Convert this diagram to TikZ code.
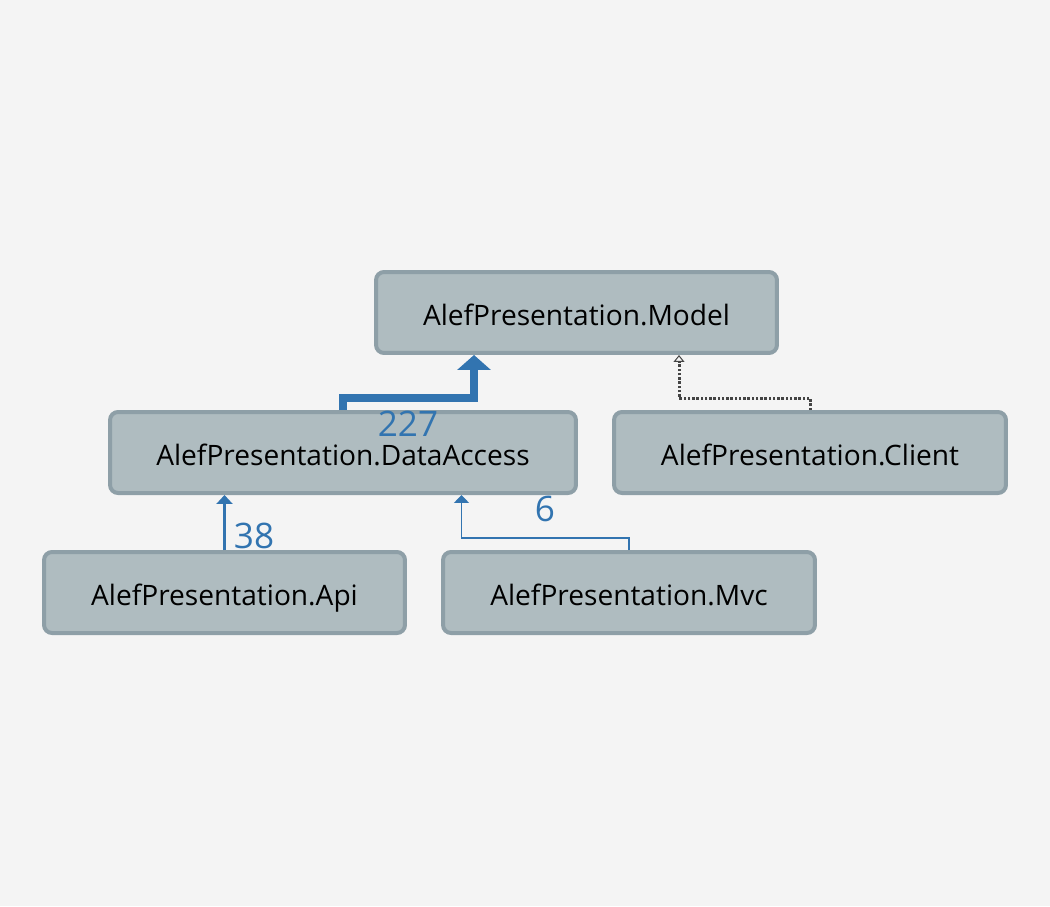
\documentclass[tikz,border=0pt]{standalone}
\usepackage{fontspec}
\setmainfont{Open Sans}
\usetikzlibrary{arrows.meta}
\definecolor{bgcol}{HTML}{F4F4F4}
\definecolor{boxfill}{HTML}{AFBCC0}
\definecolor{boxline}{HTML}{8E9FA7}
\definecolor{depblue}{HTML}{3274B0}
\definecolor{dotgray}{HTML}{444444}
\tikzset{
  project/.style={draw=boxline, fill=boxfill, line width=0.08cm, rounded corners=0.16cm,
    minimum height=1.62cm, inner sep=0pt, text height=0.52cm, text depth=0.02cm,
    font=\fontsize{16}{18}\selectfont},
  depline/.style={draw=depblue, line join=miter},
  count/.style={text=depblue, font=\fontsize{20}{22}\selectfont, inner sep=0pt},
}
\begin{document}
\begin{tikzpicture}[x=0.02cm, y=-0.02cm]
    % 背景
    \fill[bgcol] (0,0) rectangle (1050,906);
    \useasboundingbox (0,0) rectangle (1050,906);

    % 项目
    \node[project, minimum width=8.02cm] (model) at (576.5,312.5) {AlefPresentation.Model};
    \node[project, minimum width=9.32cm] (da) at (343,452.5) {AlefPresentation.DataAccess};
    \node[project, minimum width=7.84cm] (client) at (810,452.5) {AlefPresentation.Client};
    \node[project, minimum width=7.22cm] (api) at (224.5,592.5) {AlefPresentation.Api};
    \node[project, minimum width=7.44cm] (mvc) at (629,592.5) {AlefPresentation.Mvc};

    % 依赖
    \draw[depline, line width=0.16cm, -{Triangle[width=0.66cm,length=0.3cm]}]
      (da.north) |- (474,398) -- (474,398 |- model.south);
    \draw[dotgray, line width=0.06cm, dash pattern=on 0.05cm off 0.035cm,
      -{Triangle[open,width=0.22cm,length=0.14cm,line width=0.02cm]}]
      (client.north) |- (679,398) -- (679,398 |- model.south);
    \draw[depline, line width=0.07cm, -{Triangle[width=0.32cm,length=0.18cm]}]
      (api.north) -- (api.north |- da.south);
    \draw[depline, line width=0.03cm, -{Triangle[width=0.3cm,length=0.16cm]}]
      (mvc.north) |- (461.5,538) -- (461.5,538 |- da.south);

    % 数量
    \node[count] (n227) at (408,424) {227};
    \node[count] (n38) at (254,536) {38};
    \node[count] (n6) at (545,509) {6};
\end{tikzpicture}
\end{document}
